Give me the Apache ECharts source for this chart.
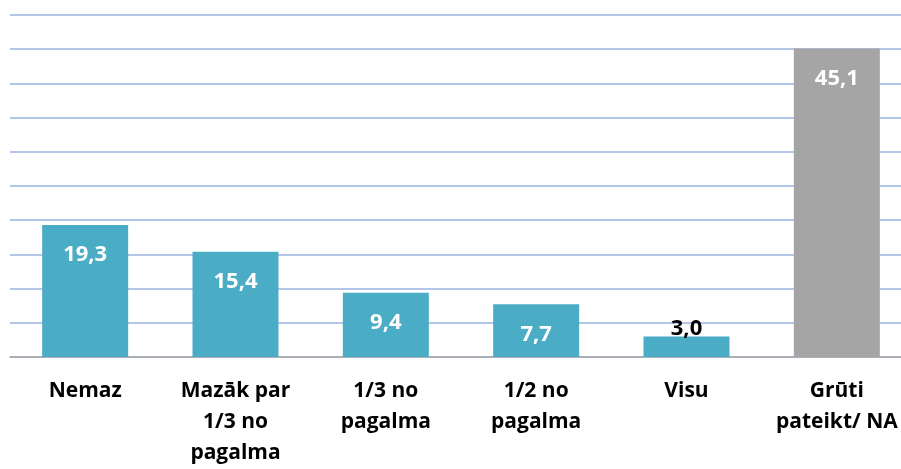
<!DOCTYPE html>
<html><head><meta charset="utf-8">
<script src="https://cdn.jsdelivr.net/npm/echarts@6/dist/echarts.min.js"></script>
<style>html,body{margin:0;padding:0;background:#fff}#c{width:901px;height:469px}</style>
</head><body><div id="c"></div>
<script>
const categories = ['Nemaz', 'Mazāk par\n1/3 no\npagalma', '1/3 no\npagalma', '1/2 no\npagalma', 'Visu', 'Grūti\npateikt/ NA'];
const values = [19.3, 15.4, 9.4, 7.7, 3.0, 45.1];
const barColors = ['#4BACC6', '#4BACC6', '#4BACC6', '#4BACC6', '#4BACC6', '#A5A5A5'];
const insideLabel = [true, true, true, true, false, true];

const fmt = v => v.toFixed(1).replace('.', ',');
const FONT = 'Open Sans';
const chart = echarts.init(document.getElementById('c'));
chart.setOption({
  animation: false,
  grid: { left: 10, width: 902, top: 15, bottom: 112, containLabel: false, outerBoundsMode: 'none' },
  xAxis: {
    type: 'category', data: categories,
    axisLine: { lineStyle: { color: '#A6A6A6', width: 1.5 } },
    axisTick: { show: false },
    axisLabel: { color: '#000', fontFamily: FONT, fontWeight: 'bold', fontSize: 21, lineHeight: 31, margin: 19, interval: 0 }
  },
  yAxis: {
    type: 'value', min: 0, max: 50, interval: 5,
    axisLabel: { show: false }, axisLine: { show: false }, axisTick: { show: false },
    splitLine: { lineStyle: { color: '#B4C6E7', width: 2 } }
  },
  series: [{
    type: 'bar', barWidth: 86,
    data: values.map((v, i) => ({
      value: v,
      itemStyle: { color: barColors[i] },
      label: insideLabel[i]
        ? { show: true, position: 'insideTop', distance: 19, color: '#fff' }
        : { show: true, position: 'top', distance: -3, color: '#000' }
    })),
    label: { fontFamily: FONT, fontWeight: 'bold', fontSize: 22, formatter: p => fmt(p.value) }
  }]
});
</script></body></html>
